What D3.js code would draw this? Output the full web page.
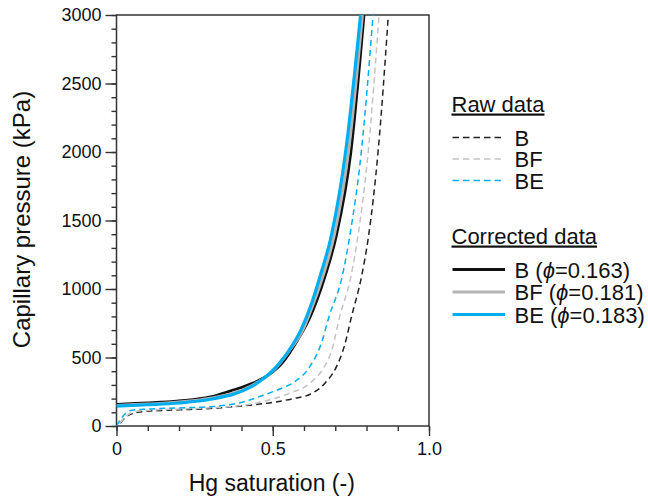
<!DOCTYPE html>
<html>
<head>
<meta charset="utf-8">
<script src="https://cdn.jsdelivr.net/npm/d3@7"></script>
<style>
  body { margin: 0; background: #fff; }
  svg { font-family: "Liberation Sans", Arial, Helvetica, sans-serif; }
</style>
</head>
<body>
<div id="chart"></div>
<script>
// Hg saturation (-) vs capillary pressure (kPa)

const rawB  = [[0.012,20],[0.03,65],[0.06,97],[0.1,108],[0.2,118],[0.3,128],[0.427,152],[0.5,172],[0.565,200],[0.62,232],[0.667,312],[0.704,433],[0.73,590],[0.752,798],[0.784,1090],[0.807,1394],[0.837,2000],[0.869,2970]];
const rawBF = [[0.01,20],[0.03,70],[0.06,105],[0.1,114],[0.2,124],[0.3,133],[0.427,158],[0.48,185],[0.555,240],[0.62,315],[0.667,440],[0.69,560],[0.714,798],[0.75,1090],[0.773,1394],[0.806,2015],[0.84,3000]];
const rawBE = [[0,0],[0.015,55],[0.05,115],[0.1,124],[0.2,132],[0.3,141],[0.4,172],[0.47,225],[0.52,268],[0.565,315],[0.619,435],[0.655,600],[0.68,798],[0.722,1090],[0.747,1394],[0.784,2015],[0.821,3000]];

const corB  = [[0,158],[0.1,168],[0.2,183],[0.3,212],[0.363,255],[0.437,313],[0.5,395],[0.53,460],[0.58,630],[0.62,798],[0.667,1090],[0.704,1394],[0.75,2000],[0.792,3000]];
const corBF = [[0,150],[0.1,160],[0.2,175],[0.3,202],[0.43,292],[0.5,400],[0.55,540],[0.6,720],[0.614,798],[0.66,1090],[0.697,1394],[0.743,2015],[0.787,3000]];
const corBE = [[0,145],[0.1,155],[0.2,168],[0.3,195],[0.43,285],[0.45,313],[0.512,433],[0.55,545],[0.59,700],[0.625,900],[0.651,1090],[0.688,1394],[0.734,2015],[0.781,3000]];

const rawLabels = ['B', 'BF', 'BE'];
const corNames  = ['B', 'BF', 'BE'];
const corPhi    = ['0.163', '0.181', '0.183'];

const xMajor = [0, 0.5, 1.0];
const yMajor = [0, 500, 1000, 1500, 2000, 2500, 3000];

const colors = { black: '#111', gray: '#b5b5b5', grayDash: '#c4c4c4', blue: '#00aeef' };

const W = 648, H = 499;
const margin = { top: 15, left: 116.5, right: 219, bottom: 73 };
const innerW = W - margin.left - margin.right;
const innerH = H - margin.top - margin.bottom;

const svg = d3.select('#chart').append('svg')
  .attr('width', W).attr('height', H);

const g = svg.append('g')
  .attr('transform', `translate(${margin.left},${margin.top})`);

const x = d3.scaleLinear().domain([0, 1]).range([0, innerW]);
const y = d3.scaleLinear().domain([0, 3000]).range([innerH, 0]);

// ── Axes: minor ticks (short, outward) then major (long, outward) ──
const axisColor = '#333';
const fmtX = d => d === 0 ? '0' : d3.format('.1f')(d);

g.append('g').attr('transform', `translate(0,${innerH})`)
  .call(d3.axisBottom(x).tickValues(d3.range(0, 1.0001, 0.1)).tickSize(5).tickFormat(''))
  .call(a => a.select('.domain').remove());
g.append('g').attr('transform', `translate(0,${innerH})`)
  .call(d3.axisBottom(x).tickValues(xMajor).tickSize(10).tickPadding(6).tickFormat(fmtX))
  .call(a => a.select('.domain').remove())
  .call(a => a.selectAll('text').style('font-size', '18px').attr('fill', '#111'));

g.append('g')
  .call(d3.axisLeft(y).tickValues(d3.range(0, 3001, 100)).tickSize(5).tickFormat(''))
  .call(a => a.select('.domain').remove());
g.append('g')
  .call(d3.axisLeft(y).tickValues(yMajor).tickSize(11).tickPadding(4).tickFormat(d3.format('d')))
  .call(a => a.select('.domain').remove())
  .call(a => a.selectAll('text').style('font-size', '18px').attr('fill', '#111'));

g.selectAll('.tick line').attr('stroke', axisColor).attr('stroke-width', 1.4);

// frame
g.append('rect')
  .attr('width', innerW).attr('height', innerH)
  .attr('fill', 'none').attr('stroke', axisColor).attr('stroke-width', 1.5);

// ── Curves ──
g.append('clipPath').attr('id', 'clip')
  .append('rect').attr('width', innerW).attr('height', innerH);

const line = d3.line()
  .x(d => x(d[0])).y(d => y(d[1]))
  .curve(d3.curveMonotoneX);

const curves = [
  { data: rawB,  color: '#222',          width: 1.5, dash: '6,4' },
  { data: rawBF, color: colors.grayDash, width: 1.5, dash: '6,4' },
  { data: rawBE, color: colors.blue,     width: 1.5, dash: '6,4' },
  { data: corB,  color: colors.black,    width: 2.8, dash: null },
  { data: corBF, color: colors.gray,     width: 3,   dash: null },
  { data: corBE, color: colors.blue,     width: 3.2, dash: null }
];

const plot = g.append('g').attr('clip-path', 'url(#clip)');
plot.selectAll('path.curve')
  .data(curves)
  .enter()
  .append('path')
  .attr('class', 'curve')
  .attr('fill', 'none')
  .attr('stroke', d => d.color)
  .attr('stroke-width', d => d.width)
  .attr('stroke-dasharray', d => d.dash)
  .attr('d', d => line(d.data));

// ── Axis titles ──
svg.append('text')
  .attr('x', margin.left + innerW / 2 - 1).attr('y', 491)
  .attr('text-anchor', 'middle')
  .style('font-size', '23px').attr('fill', '#111')
  .text('Hg saturation (-)');

svg.append('text')
  .attr('transform', 'translate(30,219.5) rotate(-90)')
  .attr('text-anchor', 'middle')
  .style('font-size', '24px').attr('fill', '#111')
  .text('Capillary pressure (kPa)');

// ── Legend ──
const legend = svg.append('g');
const lx0 = 452.5, lx1 = 505, tx = 514.5;

legend.append('text')
  .attr('x', 451.5).attr('y', 111.5)
  .style('font-size', '22px').style('text-decoration', 'underline').attr('fill', '#111')
  .text('Raw data');

const rawRows = legend.selectAll('g.raw')
  .data(curves.slice(0, 3))
  .enter().append('g')
  .attr('transform', (d, i) => `translate(0,${137.5 + i * 21.5})`);
rawRows.append('line')
  .attr('x1', lx0).attr('x2', lx1)
  .attr('stroke', d => d.color).attr('stroke-width', 1.5)
  .attr('stroke-dasharray', '6.5,4');
rawRows.append('text')
  .attr('x', tx).attr('y', 8)
  .style('font-size', '22px').attr('fill', '#111')
  .text((d, i) => rawLabels[i]);

legend.append('text')
  .attr('x', 451.5).attr('y', 243.5)
  .style('font-size', '22px').style('text-decoration', 'underline').attr('fill', '#111')
  .text('Corrected data');

const corRows = legend.selectAll('g.cor')
  .data(curves.slice(3))
  .enter().append('g')
  .attr('transform', (d, i) => `translate(0,${269.5 + i * 22.5})`);
corRows.append('line')
  .attr('x1', lx0).attr('x2', lx1)
  .attr('stroke', d => d.color).attr('stroke-width', 3);
const corText = corRows.append('text')
  .attr('x', tx).attr('y', 8)
  .style('font-size', '22px').attr('fill', '#111');
corText.append('tspan').text((d, i) => corNames[i] + ' (');
corText.append('tspan').style('font-style', 'italic').text('\u03d5');
corText.append('tspan').text((d, i) => '=' + corPhi[i] + ')');
</script>
</body>
</html>
